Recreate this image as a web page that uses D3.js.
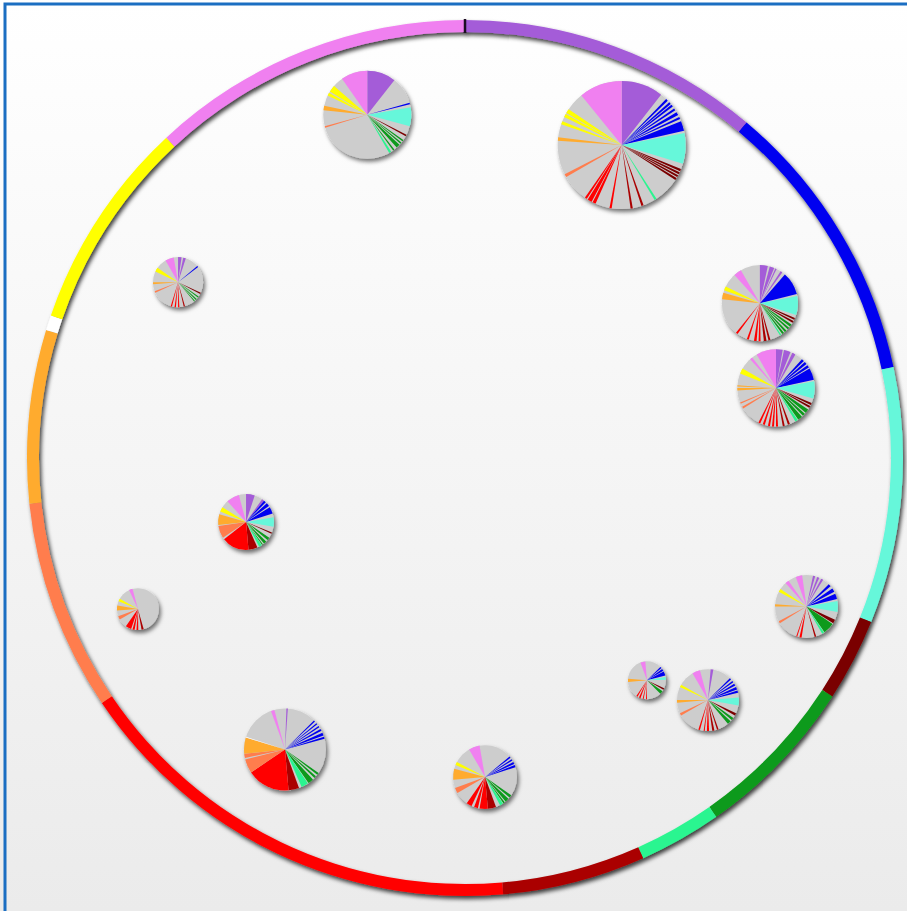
<!DOCTYPE html>
<html>
<head>
<meta charset="utf-8">
<script src="https://cdn.jsdelivr.net/npm/d3@7"></script>
<style>
  html, body { margin: 0; padding: 0; overflow: hidden; background: #fff; }
  svg { display: block; }
</style>
</head>
<body>
<svg id="chart" width="907" height="911"></svg>
<script>
// Ring categories, measured in item units around the circle (360 units in total)
const catSizes = [40, 38, 34, 11, 22, 11, 19, 61, 28, 23, 2, 28, 43];
const catColors = ["#a45bd8", "#0000f0", "#66f7da", "#7a0000", "#0a9a1a", "#2cf590",
                   "#aa0000", "#ff0000", "#ff7d4d", "#ffab2e", "#ffffff", "#ffff00", "#f080f0"];

// Pie placement: angle (item units) and distance as a share of the ring radius
const pieAngles = [26.6, 344.1, 62.3, 77.3, 301.5, 253.7, 245.2, 113.5, 140.7, 134.9, 211.7, 176.4];
const pieDistances = [0.81, 0.826, 0.771, 0.738, 0.779, 0.528, 0.834, 0.862, 0.665, 0.794, 0.793, 0.74];
// Pie totals drive the pie area
const pieTotals = [410, 194, 145, 150, 63, 78, 44, 99, 36, 96, 168, 102];

// Items present in each pie, as [start, end] ranges of item units
const pieSpans = [
  [[0,38],[44,46],[48,50],[51,53],[55,57],[59,62],[64,66],[68,77],[79,107],[112,114],[115,117],[118,120],[121,123],
   [147,149],[160,162],[170,172],[189,191],[204,207],[208,212],[213,215],[240,243],[274,277],[289,292],[296,299],[300,304],[321,360]],
  [[0,38],[74,76],[80,105],[117,119],[125,127],[129,131],[133,138],[142,144],[147,150],[253,255],[276,282],[296,300],[302,311],[325,360]],
  [[0,12],[15,22],[24,26],[33,36],[41,76],[79,108],[113,116],[118,121],[124,128],[130,133],[136,139],[141,144],[146,148],
   [164,167],[170,174],[179,182],[185,189],[197,200],[216,219],[276,286],[290,296],[318,330]],
  [[0,10],[12,22],[25,30],[42,46],[48,52],[54,58],[60,78],[80,106],[113,116],[118,121],[124,130],[132,136],[138,145],[146,150],
   [159,162],[167,170],[177,180],[183,186],[189,192],[197,200],[204,207],[238,241],[246,248],[266,270],[272,274],[292,300],[318,322],[330,360]],
  [[0,8],[12,18],[50,53],[115,118],[125,128],[132,135],[138,140],[164,167],[177,180],[185,188],[194,197],[245,249],[265,270],[295,305],[330,350]],
  [[0,18],[35,45],[48,55],[58,72],[80,100],[112,115],[124,130],[134,140],[143,145],[146,152],[156,232],[236,262],[264,286],[292,302],[318,345]],
  [[164,170],[179,184],[189,195],[199,215],[240,250],[266,280],[292,300],[335,345]],
  [[12,16],[20,24],[28,32],[45,50],[55,62],[66,76],[80,100],[115,122],[124,145],[146,150],[162,165],[189,193],[197,199],[238,242],[270,274],[298,304],[318,325],[340,352]],
  [[45,50],[53,60],[62,75],[80,88],[115,120],[125,135],[180,183],[190,193],[200,205],[210,214],[265,275],[340,355]],
  [[5,10],[45,48],[52,55],[58,62],[65,70],[72,76],[85,100],[115,120],[125,130],[133,140],[160,163],[168,172],[178,182],[186,188],[195,198],[240,245],[265,270],[295,300],[330,345]],
  [[2,4],[45,47],[50,52],[55,57],[60,63],[66,70],[72,75],[125,128],[131,134],[137,145],[146,156],[160,236],[236,256],[258,288],[340,345]],
  [[50,53],[56,59],[62,66],[68,72],[125,130],[133,140],[142,145],[146,152],[160,190],[193,200],[205,215],[240,250],[265,285],[292,298],[330,350]]
];

const svg = d3.select("#chart");
const W = 907, H = 911;
const cx = 465, cy = 458;

const defs = svg.append("defs");
const grad = defs.append("linearGradient").attr("id", "bg").attr("x1", 0).attr("y1", 0).attr("x2", 0).attr("y2", 1);
grad.append("stop").attr("offset", "0%").attr("stop-color", "#ffffff");
grad.append("stop").attr("offset", "100%").attr("stop-color", "#ebebeb");

function dropShadow(id, opacity) {
  const f = defs.append("filter").attr("id", id)
    .attr("x", "-20%").attr("y", "-20%").attr("width", "140%").attr("height", "140%");
  f.append("feDropShadow").attr("dx", 2).attr("dy", 3).attr("stdDeviation", 2)
    .attr("flood-color", "#000").attr("flood-opacity", opacity);
}
dropShadow("ringShadow", 0.75);
dropShadow("pieShadow", 0.55);

svg.append("rect").attr("width", W).attr("height", H).attr("fill", "url(#bg)");
svg.append("rect").attr("x", 5).attr("y", 4).attr("width", W + 20).attr("height", H + 20)
  .attr("fill", "none").attr("stroke", "#1b6ec2").attr("stroke-width", 3);

const total = d3.sum(catSizes);
const angle = d3.scaleLinear().domain([0, total]).range([0, 2 * Math.PI]);
const dist = d3.scaleLinear().domain([0, 1]).range([0, 432]);
const size = d3.scaleSqrt().domain([0, d3.max(pieTotals)]).range([0, 64]);

// Category bounds in item units
const catEnds = Array.from(d3.cumsum(catSizes));
const catStarts = [0, ...catEnds.slice(0, -1)];

// Break a range of items at category bounds so each piece takes its category colour
function splitSpan([a, b]) {
  const out = [];
  catSizes.forEach((_, k) => {
    const s = Math.max(a, catStarts[k]), e = Math.min(b, catEnds[k]);
    if (e > s) out.push({ s, e, k });
  });
  return out;
}

const root = svg.append("g").attr("transform", `translate(${cx},${cy})`);

// Outer ring
const ringArc = d3.arc().innerRadius(426).outerRadius(438);
const ringPie = d3.pie().sort(null).value(d => d)(catSizes);
const ring = root.append("g").attr("filter", "url(#ringShadow)");
ring.selectAll("path").data(ringPie).join("path")
  .attr("d", ringArc)
  .attr("fill", (d, i) => catColors[i]);
ring.append("line")
  .attr("x1", 0).attr("x2", 0).attr("y1", -439).attr("y2", -425)
  .attr("stroke", "#1a0a20").attr("stroke-width", 2.5);

// Pies
const pies = pieTotals.map((t, i) => ({
  pos: d3.pointRadial(angle(pieAngles[i]), dist(pieDistances[i])),
  r: size(t),
  pieces: pieSpans[i].flatMap(splitSpan)
}));

const pg = root.selectAll("g.pie").data(pies).join("g")
  .attr("class", "pie")
  .attr("transform", d => `translate(${d.pos[0]},${d.pos[1]})`)
  .attr("filter", "url(#pieShadow)");

pg.append("circle").attr("r", d => d.r).attr("fill", "#cdcdcd");

pg.each(function (d) {
  const arc = d3.arc().innerRadius(0).outerRadius(d.r);
  d3.select(this).selectAll("path").data(d.pieces).join("path")
    .attr("d", p => arc({ startAngle: angle(p.s), endAngle: angle(p.e) }))
    .attr("fill", p => catColors[p.k]);
});
</script>
</body>
</html>
